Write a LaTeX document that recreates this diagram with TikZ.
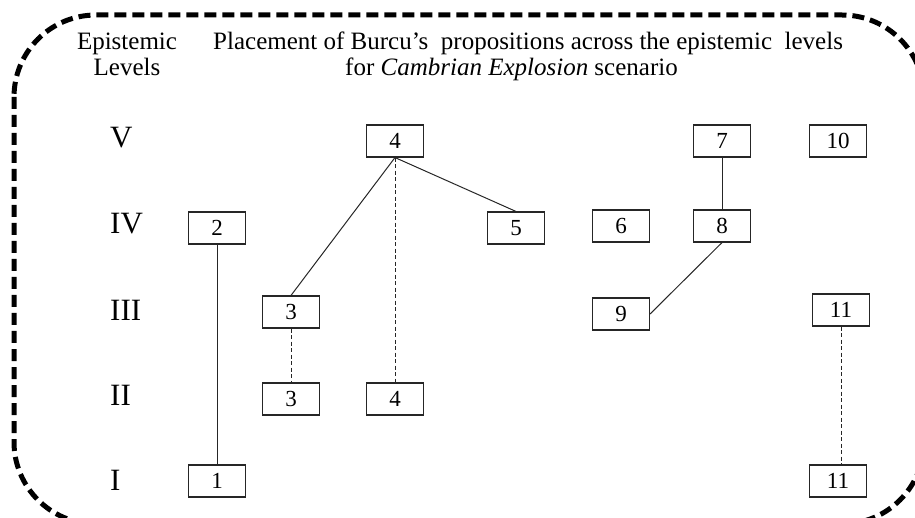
\documentclass[tikz,border=0pt]{standalone}
\usepackage{fontspec}
\setmainfont{Liberation Serif}
\begin{document}
\begin{tikzpicture}[x=1pt,y=-1pt,
  prop/.style={draw=black!85, line width=1.1pt, minimum width=57pt, minimum height=32pt,
    inner sep=0pt, font=\fontsize{23}{23}\selectfont},
  lvl/.style={anchor=base west, inner sep=0pt, font=\fontsize{31}{31}\selectfont},
  head/.style={anchor=base west, inner sep=0pt, font=\fontsize{25}{26}\selectfont},
  link/.style={line width=1pt, draw=black!85},
  weak/.style={line width=1pt, draw=black!85, dash pattern=on 4pt off 2.5pt},
  frame/.style={line width=5pt, dash pattern=on 12pt off 6pt, rounded corners=82pt}]
\useasboundingbox (0,0) rectangle (915,518);

% dashed outer frame, running past the lower and right edges
\begin{scope}
  \clip (0,0) rectangle (915,518);
  \draw[frame] (14,15) rectangle (924,524);
\end{scope}

% headings
\node[head, anchor=base] (hd1) at (127,50) {Epistemic};
\node[head, anchor=base] (hd2) at (127,76) {Levels};
\node[head] (tt1) at (213,50) {Placement of Burcu’s~ propositions across the epistemic~ levels};
\node[head] (tt2) at (345,76) {for \textit{Cambrian Explosion} scenario};

% epistemic levels
\node[lvl] (lv5) at (110,148) {V};
\node[lvl] (lv4) at (110,234) {IV};
\node[lvl] (lv3) at (110,320) {III};
\node[lvl] (lv2) at (110,405) {II};
\node[lvl] (lv1) at (110,490) {I};

% propositions
\node[prop] (p4v)  at (395,141) {4};
\node[prop] (p7)   at (722,141) {7};
\node[prop] (p10)  at (838,141) {10};
\node[prop] (p2)   at (217,228) {2};
\node[prop] (p5)   at (516,228) {5};
\node[prop] (p6)   at (621,226) {6};
\node[prop] (p8)   at (722,226) {8};
\node[prop] (p3iii) at (291,312) {3};
\node[prop] (p9)   at (621,314) {9};
\node[prop] (p11iii) at (841,310) {11};
\node[prop] (p3ii) at (291,399) {3};
\node[prop] (p4ii) at (395,399) {4};
\node[prop] (p1)   at (217,481) {1};
\node[prop] (p11i) at (838,481) {11};

% links
\draw[link] (p2.south) -- (p1.north);
\draw[link] (p4v.south) -- (p3iii.north);
\draw[link] (p4v.south) -- (p5.north);
\draw[weak] (p4v.south) -- (p4ii.north);
\draw[weak] (p3iii.south) -- (p3ii.north);
\draw[link] (p7.south) -- (p8.north);
\draw[link] (p8.south) -- (p9.east);
\draw[weak] (p11iii.south) -- (p11i.north -| p11iii.south);
\end{tikzpicture}
\end{document}
